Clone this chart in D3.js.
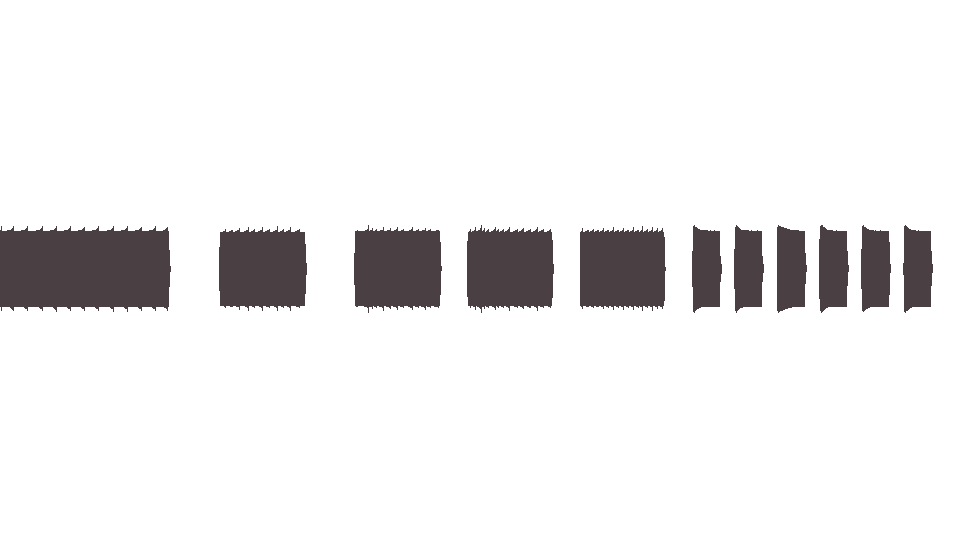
<!DOCTYPE html>
<html>
<head>
<meta charset="utf-8">
<script src="https://cdn.jsdelivr.net/npm/d3@7"></script>
<style>
  html, body { margin: 0; padding: 0; background: #ffffff; }
  svg { display: block; }
</style>
</head>
<body>
<svg id="chart" width="960" height="540"></svg>
<script>
// ---- data: waveform peak envelope (percent of full scale), 5 ms per bin ----
const binSeconds = 0.005;
const totalSeconds = 4.8;

// start time (s) of each sounded segment
const segmentStarts = [0, 1.095, 1.77, 2.335, 2.9, 3.46, 3.67, 3.885, 4.095, 4.305, 4.515];

const peaks1 = [
  88,97,86,86,86,86,86,87,88,88,89,91,93,97,
  86,86,86,86,86,86,86,87,88,88,89,91,92,97,
  86,86,86,86,86,86,86,86,87,88,88,89,91,92,97,
  86,86,86,86,86,86,86,87,88,88,89,91,93,98,
  86,86,86,86,86,86,86,87,88,88,89,91,92,97,
  86,86,86,86,86,86,86,87,88,88,89,91,92,96,
  86,86,86,86,86,86,86,87,88,88,89,91,92,97,
  86,86,86,86,86,86,86,86,87,88,88,89,91,92,98,
  86,86,86,86,86,86,86,87,88,88,89,91,92,98,
  86,86,86,86,86,86,86,87,88,88,89,91,92,96,
  86,86,86,86,86,86,86,87,88,88,89,91,92,97,
  86,86,86,86,86,86,86,88,89,90,92,95,
  86,42,7
];
const peaks2 = [
  50,
  84,84,84,85,86,90,
  84,84,84,85,86,87,88,
  84,84,85,86,87,88,93,
  84,84,84,84,85,86,88,89,96,
  84,84,85,86,87,90,
  84,84,84,85,86,88,89,96,
  84,84,85,86,87,88,90,
  84,84,84,85,86,88,89,97,
  84,84,85,86,87,90,
  84,84,85,86,88,89,96,
  84,84,84,84,85,86,87,88,90,
  84,84,84,84,84,
  57,14
];
const peaks3 = [
  36,
  85,86,88,
  85,85,85,85,85,85,86,87,88,90,100,
  86,87,88,92,
  85,86,87,90,
  85,85,86,87,88,89,96,
  85,85,86,87,88,89,92,
  85,85,86,87,88,90,94,
  85,85,86,87,88,90,
  85,85,85,85,86,87,89,90,94,
  85,85,86,87,88,90,
  85,85,86,87,88,89,93,
  85,86,87,88,90,
  85,85,85,86,86,87,88,89,
  85,
  60,6
];
const peaks4 = [
  64,
  84,85,90,
  84,85,86,88,94,
  85,86,87,89,92,100,
  86,88,92,
  84,86,88,90,
  84,84,85,86,88,90,94,
  85,88,90,
  84,85,86,88,90,
  84,85,86,88,90,96,
  84,84,84,85,86,87,88,90,
  84,85,86,88,90,92,
  84,84,85,86,88,89,90,
  84,84,85,86,88,90,96,
  84,85,86,87,88,90,
  84,84,84,85,86,87,90,
  84,
  66,11
];
const peaks5 = [
  84,86,92,
  84,84,85,86,87,88,
  84,85,86,87,90,
  84,85,86,87,88,
  84,85,86,88,92,
  84,85,86,87,89,
  84,85,86,88,94,
  84,85,86,87,89,
  84,85,86,88,93,
  84,85,86,87,89,
  84,85,86,88,94,
  84,85,86,87,89,
  84,86,88,97,
  84,85,86,87,90,
  84,85,86,88,96,
  84,85,86,88,92,
  84,85,86,88,92,
  84,
  73,5
];
const peaks6  = [41,98,100,96,94,92,91,90,89,88,88,87,87,87,88,87,86,86,87,86,86,86,87,86,86,86,86,86,30,11];
const peaks7  = [45,96,100,97,94,92,90,89,89,88,88,87,87,88,87,86,86,87,86,86,86,86,86,87,86,86,86,86,30,10];
const peaks8  = [96,100,98,97,96,95,94,93,92,92,91,90,90,89,89,88,88,88,87,87,87,87,86,86,86,86,86,86,35,8];
const peaks9  = [68,97,100,99,96,94,92,90,89,88,88,87,87,87,86,86,86,87,86,86,86,86,86,86,86,86,86,86,40,8];
const peaks10 = [45,97,99,96,94,92,91,90,89,88,88,87,87,86,87,86,86,86,86,87,86,86,86,86,86,86,86,86,60,10];
const peaks11 = [14,98,100,97,95,93,91,90,89,88,88,87,87,86,86,87,86,86,86,86,86,86,86,86,86,86,86,86,40,10];

const segmentPeaks = [peaks1, peaks2, peaks3, peaks4, peaks5, peaks6, peaks7, peaks8, peaks9, peaks10, peaks11];

// ---- drawing ----
const W = 960, H = 540;
const centerY = 268.75, halfHeight = 44;
const svg = d3.select("#chart");

const x = d3.scaleLinear().domain([0, totalSeconds]).range([0, W]);
const y = d3.scaleLinear().domain([-100, 100]).range([centerY + halfHeight, centerY - halfHeight]);

const area = d3.area()
  .x(d => x(d.t))
  .y0(d => y(-d.v))
  .y1(d => y(d.v))
  .curve(d3.curveStepAfter);

const segments = segmentStarts.map((start, i) => {
  const vals = segmentPeaks[i];
  const pts = vals.map((v, k) => ({ t: start + k * binSeconds, v }));
  pts.push({ t: start + vals.length * binSeconds, v: 0 });
  return pts;
});

svg.append("g")
  .selectAll("path")
  .data(segments)
  .join("path")
  .attr("d", area)
  .attr("fill", "#4a4044")
  .attr("shape-rendering", "crispEdges");
</script>
</body>
</html>
